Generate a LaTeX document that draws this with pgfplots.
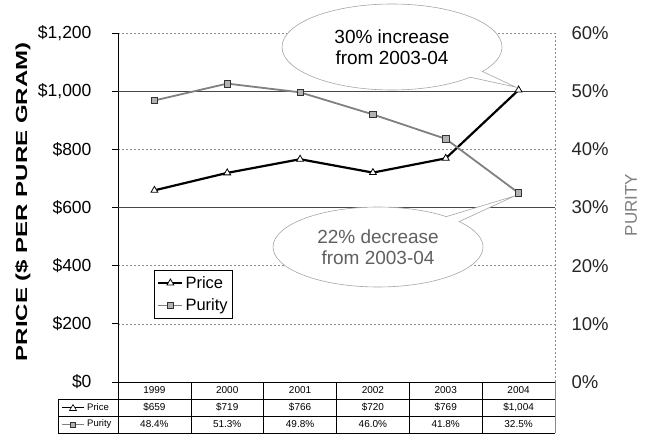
\documentclass[border=0pt]{standalone}
\usepackage{fontspec}
\setmainfont{Liberation Sans}
\usepackage{graphicx}
\usepackage{pgfplots}
\pgfplotsset{compat=1.18}
\usetikzlibrary{shapes.callouts,shapes.geometric}
\definecolor{gridgray}{gray}{0.55}
\definecolor{purgray}{gray}{0.5}
\pgfplotsset{
  legend image code/.code={\draw[mark repeat=2,mark phase=2,#1] plot coordinates {(0pt,0pt) (12pt,0pt) (24pt,0pt)};}
}
\begin{document}
\begin{tikzpicture}
\path[use as bounding box] (0,0) rectangle (647pt,-438pt);
\begin{axis}[
  at={(118pt,-382pt)}, anchor=south west,
  scale only axis, width=437pt, height=349pt,
  xmin=-0.5, xmax=5.5, ymin=0, ymax=1200,
  axis lines*=left,
  axis line style={black, line width=0.8pt},
  xtick=\empty,
  ytick={0,200,...,1200},
  yticklabels={\$0,\$200,\$400,\$600,\$800,{\$1,000},{\$1,200}},
  tick align=outside, major tick length=6pt,
  tick style={black, line width=0.7pt},
  yticklabel style={font=\fontsize{17.5}{20}\selectfont, xshift=-17pt},
  ymajorgrids,
  grid style={gridgray, dash pattern=on 2pt off 2pt, line width=0.6pt},
  extra y ticks={600,1000}, extra y tick labels={},
  extra y tick style={grid style={solid, gray!55!black, line width=0.9pt}},
  ylabel={\scalebox{1.5}[1]{\bfseries PRICE (\$ PER PURE GRAM)}},
  ylabel style={at={(axis description cs:-0.218,0.516)}, anchor=center, font=\fontsize{16}{19}\selectfont},
  clip=false,
  legend style={at={(axis description cs:0.0824,0.321)}, anchor=north west, draw=black, line width=0.6pt,
    font=\fontsize{16.5}{18}\selectfont, row sep=5pt, inner xsep=3pt, inner ysep=4pt},
  legend cell align=left,
]
\addplot[black, line width=2.2pt, mark=triangle*, mark size=4pt, mark options={fill=white, line width=0.8pt}]
  coordinates {(0,659)(1,719)(2,766)(3,720)(4,769)(5,1004)};
\addlegendentry{Price}
\addlegendimage{purgray, line width=1.8pt, mark=square*, mark size=3.2pt, mark options={fill=gray!60, draw=gray!40!black, line width=0.6pt}}
\addlegendentry{Purity}
\coordinate (tipA) at (axis cs:4.96,1014);
\coordinate (tipB) at (axis cs:4.95,640);
\end{axis}
\begin{axis}[
  at={(118pt,-382pt)}, anchor=south west,
  scale only axis, width=437pt, height=349pt,
  xmin=-0.5, xmax=5.5, ymin=0, ymax=60,
  axis y line*=right, axis x line=none,
  axis line style={gridgray, dash pattern=on 2pt off 2pt, line width=0.6pt},
  ytick={0,10,...,60},
  yticklabels={0\%,10\%,20\%,30\%,40\%,50\%,60\%},
  major tick length=0pt,
  yticklabel style={font=\fontsize{18.5}{20}\selectfont, anchor=west, xshift=13pt, text=black!85},
  ylabel={PURITY},
  ylabel style={at={(axis description cs:1.174,0.507)}, anchor=center, rotate=0, font=\fontsize{17}{19}\selectfont, text=gray},
  clip=false,
]
\addplot[purgray, line width=1.8pt, mark=square*, mark size=3.2pt, mark options={fill=gray!60, draw=gray!40!black, line width=0.6pt}]
  coordinates {(0,48.4)(1,51.3)(2,49.8)(3,46.0)(4,41.8)(5,32.5)};
\end{axis}
\begin{scope}[x=1pt,y=-1pt]
  % callouts
  \node[ellipse callout, draw=gray!70, fill=white, line width=0.6pt, minimum width=220pt, minimum height=86pt,
        callout absolute pointer=(tipA), callout pointer arc=10, align=center,
        font=\fontsize{19}{21}\selectfont] at (392,47) {30\% increase\\from 2003-04};
  \node[ellipse callout, draw=gray!70, fill=white, line width=0.6pt, minimum width=210pt, minimum height=80pt,
        callout absolute pointer=(tipB), callout pointer arc=10, align=center, text=gray!75!black,
        font=\fontsize{19}{21}\selectfont] at (378,247) {22\% decrease\\from 2003-04};
  % data table
  \draw[black, line width=0.7pt] (118,382) -- (118,433);
  \foreach \xx in {190.8,263.7,336.5,409.3,482.2} {\draw[black, line width=0.6pt] (\xx,382) -- (\xx,433);}
  \draw[gridgray, line width=0.6pt] (555,382) -- (555,433);
  \draw[black, line width=0.6pt] (118,399) -- (555,399);
  \draw[black, line width=0.6pt] (58,399) -- (118,399) -- (118,433) (58,416) -- (555,416);
  \draw[black, line width=0.6pt] (58,399) -- (58,433) -- (555,433);
  \foreach \xx/\yr/\pr/\pu in {154.4/1999/\$659/48.4\%, 227.2/2000/\$719/51.3\%, 300.1/2001/\$766/49.8\%,
      372.9/2002/\$720/46.0\%, 445.7/2003/\$769/41.8\%, 518.6/2004/{\$1,004}/32.5\%} {
    \node[font=\fontsize{10}{12}\selectfont] at (\xx,390.5) {\yr};
    \node[font=\fontsize{10}{12}\selectfont] at (\xx,407.5) {\pr};
    \node[font=\fontsize{10}{12}\selectfont] at (\xx,424.5) {\pu};
  }
  % key icons in table header column
  \draw[black, line width=1pt] (62,407.5) -- (84,407.5);
  \draw[black, fill=white, line width=0.6pt] (69.5,410.5) -- (73,404.5) -- (76.5,410.5) -- cycle;
  \node[anchor=west, font=\fontsize{9.5}{11}\selectfont, inner sep=0pt] at (87,407.5) {Price};
  \draw[purgray, line width=1pt] (62,424.5) -- (84,424.5);
  \draw[gray!40!black, fill=gray!60, line width=0.5pt] (70.5,422) rectangle (75.5,427);
  \node[anchor=west, font=\fontsize{9.5}{11}\selectfont, inner sep=0pt] at (87,424.5) {Purity};
\end{scope}
\end{tikzpicture}
\end{document}
